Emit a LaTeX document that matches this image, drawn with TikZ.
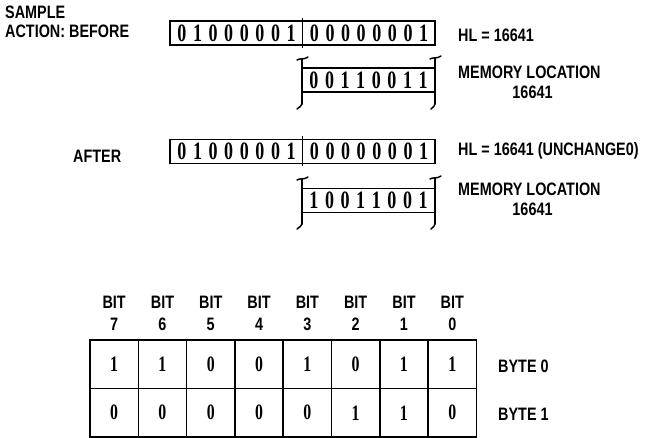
\documentclass[tikz,border=0pt]{standalone}
\usepackage{fontspec}
\setmainfont{Liberation Sans}[FakeStretch=0.8]
\newfontfamily\digfont{Liberation Serif}[FakeStretch=0.72]
\begin{document}
\begin{tikzpicture}[x=1pt,y=-1pt,
  lbl/.style={font=\fontsize{18}{18}\selectfont\bfseries, inner sep=0pt},
  dig/.style={font=\fontsize{25}{25}\selectfont\digfont\bfseries, inner sep=0pt},
  tdig/.style={font=\fontsize{22}{22}\selectfont\digfont\bfseries, inner sep=0pt},
  regbox/.style={draw, line width=1.8pt, inner sep=0pt, minimum width=265pt, minimum height=24pt},
  membox/.style={draw, line width=1.8pt, inner sep=0pt, minimum width=133pt, minimum height=24pt},
  cell/.style={draw, line width=1.6pt, inner sep=0pt, minimum width=48.3pt, minimum height=48.5pt},
  brk/.style={line width=1.5pt, line cap=round}]
\useasboundingbox (0,0) rectangle (668,438);

% ---------- BEFORE ----------
\node[lbl, anchor=base west] (sample) at (5,19) {SAMPLE};
\node[lbl, anchor=base west] (action) at (5,38) {ACTION: BEFORE};

\node[regbox] (r1) at (302.5,33) {};
\draw[line width=1.8pt] (302.5,18) -- (302.5,48);
\foreach \d [count=\i] in {0,1,0,0,0,0,0,1}
  \node[dig] (ra\i) at ({236.5+(\i-4.5)*15.6},33) {\d};
\foreach \d [count=\i] in {0,0,0,0,0,0,0,1}
  \node[dig] (rb\i) at ({369+(\i-4.5)*15.6},33) {\d};
\node[lbl, anchor=base west] (hl1) at (458,42) {HL = 16641};

\node[membox] (m1) at (368.5,80) {};
\foreach \d [count=\i] in {0,0,1,1,0,0,1,1}
  \node[dig] (mc\i) at ({368.5+(\i-4.5)*15.6},80) {\d};
% brackets
\draw[brk] (297,60) .. controls (300,58) and (304,60) .. (308,57);
\draw[brk] (302,59) -- (302,104);
\draw[brk] (302,104) .. controls (302,107) and (299,106) .. (297,109);
\draw[brk] (430,59) .. controls (433,57) and (437,59) .. (441,56);
\draw[brk] (435,58) -- (435,104);
\draw[brk] (435,104) .. controls (435,107) and (433,106) .. (431,109);
\node[lbl, anchor=base west] (ml1) at (458,79) {MEMORY LOCATION};
\node[lbl, anchor=base] (ma1) at (532.5,98.5) {16641};

% ---------- AFTER ----------
\node[lbl, anchor=base west] (after) at (73,163) {AFTER};
\node[regbox] (r2) at (302.5,151.5) {};
\draw[line width=1.8pt] (302.5,136.5) -- (302.5,166.5);
\foreach \d [count=\i] in {0,1,0,0,0,0,0,1}
  \node[dig] (rc\i) at ({236.5+(\i-4.5)*15.6},151.5) {\d};
\foreach \d [count=\i] in {0,0,0,0,0,0,0,1}
  \node[dig] (rd\i) at ({369+(\i-4.5)*15.6},151.5) {\d};
\node[lbl, anchor=base west] (hl2) at (458,156) {HL = 16641 (UNCHANGE0)};

\node[membox] (m2) at (368.5,200.5) {};
\foreach \d [count=\i] in {1,0,0,1,1,0,0,1}
  \node[dig] (md\i) at ({368.5+(\i-4.5)*15.6},200.5) {\d};
\draw[brk] (297,180) .. controls (300,178) and (304,180) .. (308,177);
\draw[brk] (302,179) -- (302,224);
\draw[brk] (302,224) .. controls (302,227) and (299,226) .. (297,229);
\draw[brk] (430,179) .. controls (433,177) and (437,179) .. (441,176);
\draw[brk] (435,178) -- (435,224);
\draw[brk] (435,224) .. controls (435,227) and (433,226) .. (431,229);
\node[lbl, anchor=base west] (ml2) at (458,196) {MEMORY LOCATION};
\node[lbl, anchor=base] (ma2) at (532.5,215.5) {16641};

% ---------- TABLE ----------
\foreach \v [count=\i] in {1,1,0,0,1,0,1,1} {
  \node[cell] (ca\i) at ({90+48.3*(\i-0.5)},364.25) {};
  \node[tdig] (va\i) at ({90+48.3*(\i-0.5)},364.25) {\v};
}
\foreach \v [count=\i] in {0,0,0,0,0,1,1,0} {
  \node[cell] (cb\i) at ({90+48.3*(\i-0.5)},412.75) {};
  \node[tdig] (vb\i) at ({90+48.3*(\i-0.5)},412.75) {\v};
}
\foreach \b [count=\i] in {7,6,5,4,3,2,1,0} {
  \node[lbl, anchor=base] (bt\i) at ({90+48.3*(\i-0.5)},308) {BIT};
  \node[lbl, anchor=base] (bn\i) at ({90+48.3*(\i-0.5)},330) {\b};
}
\node[lbl, anchor=base west] (byte0) at (498,372) {BYTE 0};
\node[lbl, anchor=base west] (byte1) at (498,420) {BYTE 1};
\end{tikzpicture}
\end{document}
